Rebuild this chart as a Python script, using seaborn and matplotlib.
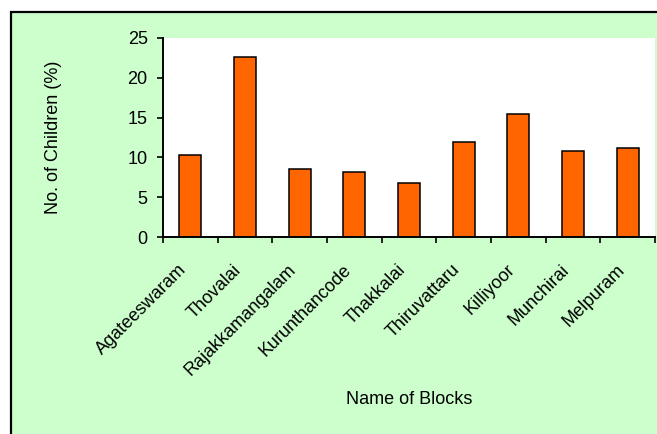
import matplotlib
matplotlib.use("Agg")
import matplotlib.pyplot as plt
from matplotlib.patches import Rectangle
from matplotlib.ticker import FixedLocator
from matplotlib.transforms import ScaledTranslation
import seaborn as sns
import pandas as pd

blocks = ["Agateeswaram", "Thovalai", "Rajakkamangalam", "Kurunthancode",
          "Thakkalai", "Thiruvattaru", "Killiyoor", "Munchirai", "Melpuram"]
children_pct = [10.3, 22.6, 8.6, 8.2, 6.8, 11.9, 15.4, 10.8, 11.2]
y_ticks = [0, 5, 10, 15, 20, 25]

df = pd.DataFrame({"block": blocks, "pct": children_pct})

sns.set_theme(style="white")
plt.rcParams["font.family"] = ["Liberation Sans", "DejaVu Sans"]
plt.rcParams["text.color"] = "black"

W, H = 657, 434
fig = plt.figure(figsize=(W / 100, H / 100), dpi=100)
fig.patch.set_facecolor("white")

# green chart frame, kept behind the axes
frame = Rectangle((11 / W, -0.05), 1.1, (H - 12) / H + 0.05,
                  transform=fig.transFigure, facecolor="#CCFFCC",
                  edgecolor="black", linewidth=1.6, zorder=-10)
fig.patches.append(frame)

ax = fig.add_axes([163 / W, (H - 237) / H, (655 - 163) / W, (237 - 38) / H])
ax.set_zorder(5)
ax.set_facecolor("white")

sns.barplot(data=df, x="block", y="pct", color="#FF6600", edgecolor="black",
            linewidth=1.1, width=0.4, saturation=1, ax=ax)

ax.set_xlim(-0.5, len(blocks) - 0.5)
ax.set_ylim(0, 25)
ax.set_yticks(y_ticks)

for side in ("top", "right"):
    ax.spines[side].set_visible(False)
for side in ("left", "bottom"):
    ax.spines[side].set_color("black")
    ax.spines[side].set_linewidth(1.4)

ax.xaxis.set_minor_locator(FixedLocator([i - 0.5 for i in range(len(blocks) + 1)]))
ax.tick_params(axis="x", which="major", length=0, pad=19, labelsize=13,
               colors="black")
ax.tick_params(axis="x", which="minor", bottom=True, length=4, width=1.2,
               color="black")
ax.tick_params(axis="y", left=True, length=4, width=1.2, pad=7, labelsize=13,
               colors="black")

ax.set_xticks(range(len(blocks)))
ax.set_xticklabels(blocks, rotation=45, ha="right", va="center",
                   rotation_mode="anchor")
# nudge the slanted category labels slightly left and down
shift = ScaledTranslation(-0.06, -0.04, fig.dpi_scale_trans)
for lbl in ax.get_xticklabels():
    lbl.set_transform(lbl.get_transform() + shift)

ax.set_xlabel("Name of Blocks", fontsize=13, color="black")
ax.set_ylabel("No. of Children (%)", fontsize=13, color="black")
ax.xaxis.set_label_coords(0.5, -0.775)
ax.yaxis.set_label_coords(-0.205, 0.5)

fig.savefig("out.png", dpi=100)
